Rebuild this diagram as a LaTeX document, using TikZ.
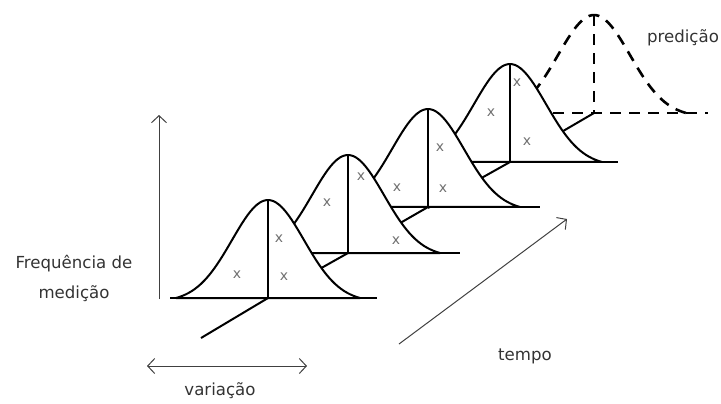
\documentclass[tikz,border=0pt]{standalone}
\usepackage{fontspec}
\setmainfont{DejaVu Sans}
\usetikzlibrary{arrows.meta}
\definecolor{xgray}{HTML}{707070}
\definecolor{textgray}{HTML}{333333}
\tikzset{
  curveline/.style={line width=1pt, line join=round},
  dashline/.style={line width=1.3pt, dash pattern=on 5.5pt off 4pt},
  axisline/.style={line width=0.5pt, draw=black!75, >={Straight Barb[length=3.5pt,width=7.5pt]}},
  xmark/.style={text=xgray, font=\fontsize{7}{7}\selectfont, inner sep=0pt},
  txtlabel/.style={text=textgray, font=\fontsize{8.3}{15}\selectfont, align=center}
}
\begin{document}
\begin{tikzpicture}[x=0.5pt, y=-0.5pt]
  \useasboundingbox (0,0) rectangle (721,403);

  % Prediction (dashed, furthest back)
  \begin{scope}[shift={(594,113)}]
    \draw[curveline] (0,0) -- (-84,49);
    \fill[white] plot[domain=-92:92, samples=60] (\x, {-98*(exp(-(\x*\x)/2592)-0.038)/0.962}) -- cycle;
    \draw[dashline] plot[domain=-92:92, samples=60] (\x, {-98*(exp(-(\x*\x)/2592)-0.038)/0.962});
    \draw[dashline] (-98,0) -- (114,0);
    \draw[dashline] (0,-98) -- (0,0);
  \end{scope}

  % Measurement 4
  \begin{scope}[shift={(510,162)}]
    \draw[curveline] (0,0) -- (-82,46);
    \filldraw[curveline, fill=white] plot[domain=-92:92, samples=60] (\x, {-98*(exp(-(\x*\x)/2592)-0.038)/0.962}) -- cycle;
    \draw[curveline] (-98,0) -- (108,0);
    \draw[curveline] (0,-98) -- (0,0);
    \node[xmark] (m4a) at (-19,-49) {x};
    \node[xmark] (m4b) at (7,-79) {x};
    \node[xmark] (m4c) at (17,-20) {x};
  \end{scope}

  % Measurement 3
  \begin{scope}[shift={(428,207)}]
    \draw[curveline] (0,0) -- (-80,46);
    \filldraw[curveline, fill=white] plot[domain=-92:92, samples=60] (\x, {-98*(exp(-(\x*\x)/2592)-0.038)/0.962}) -- cycle;
    \draw[curveline] (-98,0) -- (112,0);
    \draw[curveline] (0,-98) -- (0,0);
    \node[xmark] (m3a) at (-31,-19) {x};
    \node[xmark] (m3b) at (12,-59) {x};
    \node[xmark] (m3c) at (15,-18) {x};
  \end{scope}

  % Measurement 2
  \begin{scope}[shift={(348,253)}]
    \draw[curveline] (0,0) -- (-80,45);
    \filldraw[curveline, fill=white] plot[domain=-92:92, samples=60] (\x, {-98*(exp(-(\x*\x)/2592)-0.038)/0.962}) -- cycle;
    \draw[curveline] (-98,0) -- (112,0);
    \draw[curveline] (0,-98) -- (0,0);
    \node[xmark] (m2a) at (-21,-50) {x};
    \node[xmark] (m2b) at (13,-76) {x};
    \node[xmark] (m2c) at (48,-12) {x};
  \end{scope}

  % Measurement 1 (front)
  \begin{scope}[shift={(268,298)}]
    \draw[curveline] (0,0) -- (-67,40);
    \filldraw[curveline, fill=white] plot[domain=-92:92, samples=60] (\x, {-98*(exp(-(\x*\x)/2592)-0.038)/0.962}) -- cycle;
    \draw[curveline] (-98,0) -- (109,0);
    \draw[curveline] (0,-98) -- (0,0);
    \node[xmark] (m1a) at (-31,-23) {x};
    \node[xmark] (m1b) at (11,-59) {x};
    \node[xmark] (m1c) at (16,-21) {x};
  \end{scope}

  % Axes
  \coordinate (freqbot) at (159,299);
  \coordinate (freqtop) at (159,115);
  \coordinate (varleft) at (147,366);
  \coordinate (varright) at (307,366);
  \coordinate (tempobot) at (399,344);
  \coordinate (tempotop) at (567,219);
  \draw[axisline, ->] (freqbot) -- (freqtop);
  \draw[axisline, <->] (varleft) -- (varright);
  \draw[axisline, ->] (tempobot) -- (tempotop);

  % Labels
  \node[txtlabel] (freq) at (74,278) {Frequência de\\medição};
  \node[txtlabel] (var) at (220,391) {variação};
  \node[txtlabel] (tempo) at (525,356) {tempo};
  \node[txtlabel] (pred) at (683,38) {predição};
\end{tikzpicture}
\end{document}
